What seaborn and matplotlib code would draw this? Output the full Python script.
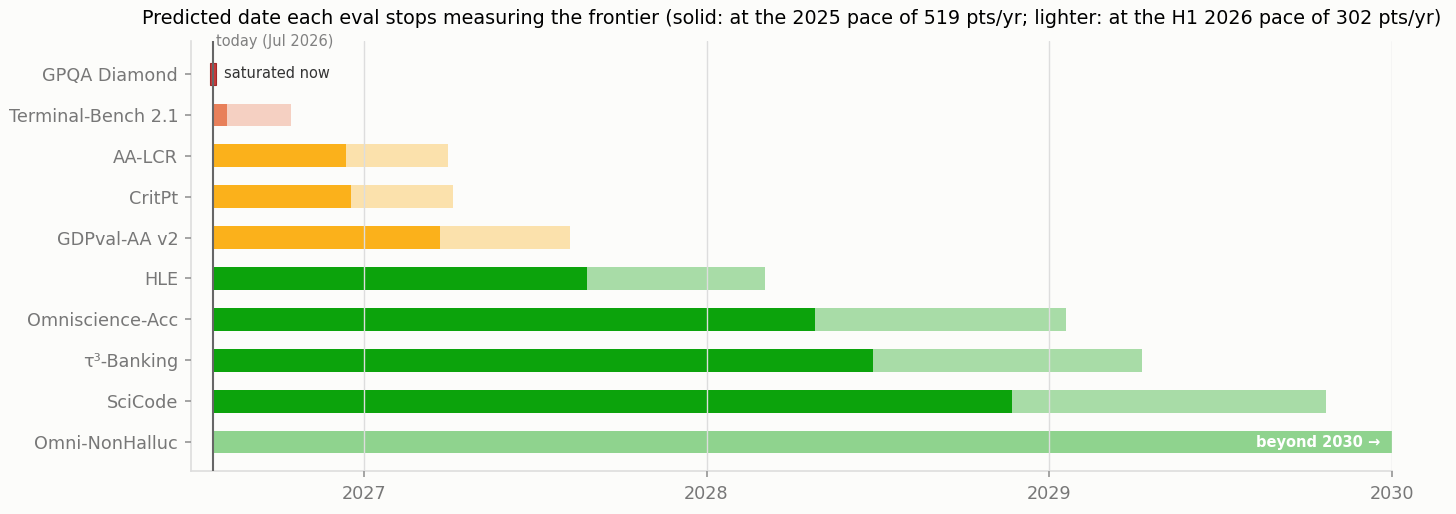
import matplotlib
matplotlib.use("Agg")
import matplotlib.pyplot as plt
import seaborn as sns
import numpy as np

# ---- data ----
evals = ["GPQA Diamond", "Terminal-Bench 2.1", "AA-LCR", "CritPt", "GDPval-AA v2",
         "HLE", "Omniscience-Acc", "τ³-Banking", "SciCode", "Omni-NonHalluc"]
today = 2026.56
end_2025_pace = [2026.56, 2026.60, 2026.947, 2026.962, 2027.222,
                 2027.651, 2028.316, 2028.485, 2028.891, None]
end_h1_pace = [2026.56, 2026.787, 2027.245, 2027.26, 2027.601,
               2028.170, 2029.048, 2029.270, 2029.807, 2030.0]
groups = ["red", "orange", "amber", "amber", "amber",
          "green", "green", "green", "green", "beyond"]
year_ticks = [2027, 2028, 2029, 2030]

palette = {"red": "#c83a3a", "orange": "#e8805a", "amber": "#fbb11b",
           "green": "#0ca30c", "beyond": "#0ca30c"}
bg = "#fcfcfa"

sns.set_theme(style="white")
plt.rcParams["font.family"] = ["DejaVu Sans"]

fig = plt.figure(figsize=(14.56, 5.14), dpi=100, facecolor=bg)
ax = fig.add_axes([0.131, 0.084, 0.825, 0.836], facecolor=bg)

h = 0.55
for i, (name, s, l, g) in enumerate(zip(evals, end_2025_pace, end_h1_pace, groups)):
    c = palette[g]
    if g == "red":
        ax.barh(i, 0.02, left=today - 0.01, height=h, color=c, edgecolor="#a02828",
                linewidth=0.8, zorder=2)
        ax.text(today + 0.032, i, "saturated now", va="center", ha="left",
                fontsize=10.5, color="#333333", zorder=4)
        continue
    if g == "beyond":
        ax.barh(i, l - today, left=today, height=h, color=c, alpha=0.45,
                linewidth=0, zorder=2)
        ax.text(l - 0.033, i, "beyond 2030 →", va="center", ha="right",
                fontsize=10.5, color="white", fontweight="bold", zorder=4)
        continue
    ax.barh(i, l - today, left=today, height=h, color=c, alpha=0.35,
            linewidth=0, zorder=2)
    ax.barh(i, s - today, left=today, height=h, color=c, linewidth=0, zorder=2.5)

ax.axvline(today, color="#666666", lw=1.5, zorder=3)
ax.text(today + 0.008, -0.8, "today (Jul 2026)", va="center", ha="left",
        fontsize=10.5, color="#808080")

ax.set_xlim(2026.495, 2030.0)
ax.set_ylim(9.7, -0.8)
ax.set_yticks(range(len(evals)))
ax.set_yticklabels(evals, fontsize=12.7, color="#777777")
ax.set_xticks(year_ticks)
ax.set_xticklabels([str(y) for y in year_ticks], fontsize=12.7, color="#777777")
ax.tick_params(axis="y", length=4, color="#999999", left=True, pad=5)
ax.tick_params(axis="x", length=4, color="#999999", bottom=True, pad=6)
ax.grid(axis="x", color="#dddddd", lw=1, zorder=3.5)
ax.set_axisbelow(False)
for sp in ["top", "right"]:
    ax.spines[sp].set_visible(False)
for sp in ["left", "bottom"]:
    ax.spines[sp].set_color("#dddddd")
    ax.spines[sp].set_linewidth(1.2)

ax.set_title("Predicted date each eval stops measuring the frontier (solid: at the 2025 pace of 519 pts/yr; "
             "lighter: at the H1 2026 pace of 302 pts/yr)", fontsize=13.8, color="black", pad=12)

fig.savefig("out.png", dpi=100, facecolor=bg)
